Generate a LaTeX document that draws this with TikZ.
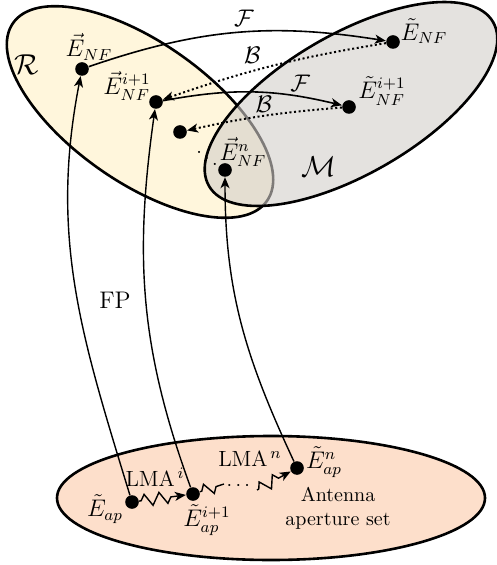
\documentclass[tikz,border=0pt]{standalone}
\usepackage{amsmath, amssymb}
\usetikzlibrary{arrows.meta, positioning, decorations.pathmorphing}

\definecolor{rfill}{RGB}{255,246,220}
\definecolor{mfill}{RGB}{210,206,202}
\definecolor{apfill}{RGB}{253,223,203}

\begin{document}
\begin{tikzpicture}[
  x=0.5pt, y=0.5pt,
  >={Stealth[length=5.5pt, width=4.5pt, inset=1.5pt]},
  region/.style={line width=1.3pt},
  field/.style={
    circle, fill=black,
    minimum size=6.8pt, inner sep=0pt
  },
  lbl/.style={inner sep=1pt, font=\large},
  fwd/.style={->, line width=0.8pt},
  bwd/.style={->, line width=1pt, dash pattern=on 1pt off 1.3pt},
  fp/.style={->, line width=0.7pt},
  lma/.style={
    line width=0.7pt, decorate,
    decoration={zigzag, segment length=7.5pt, amplitude=3pt,
                pre length=1pt, post length=4pt}
  },
  lmalbl/.style={font=\fontsize{11}{13}\selectfont},
]
  \useasboundingbox (0,0) rectangle (496,-565);

  % -------------------------------------------------------
  %  Sets
  % -------------------------------------------------------
  \fill[rfill, rotate around={-35:(140,-112)}]
    (140,-112) ellipse [x radius=155, y radius=70];
  \draw[region, rotate around={-35:(140,-112)}]
    (140,-112) ellipse [x radius=155, y radius=70];
  \fill[mfill, fill opacity=0.6, rotate around={30:(351,-104)}]
    (351,-104) ellipse [x radius=164, y radius=70];
  \draw[region, rotate around={30:(351,-104)}]
    (351,-104) ellipse [x radius=164, y radius=70];
  \filldraw[region, fill=apfill] (271,-498) ellipse [x radius=214, y radius=62];

  \node[font=\Large] (rlab) at (27,-65)   {$\mathcal{R}$};
  \node[font=\Large] (mlab) at (319,-167) {$\mathcal{M}$};
  \node[align=center] (aset) at (338,-508) {Antenna\\aperture set};

  % -------------------------------------------------------
  %  Fields
  % -------------------------------------------------------
  \node[field] (enf)  at (82,-69)   {};
  \node[field] (enf1) at (156,-102) {};
  \node[field] (enx)  at (180,-132) {};
  \node[field] (enn)  at (225,-170) {};
  \node[field] (tnf)  at (393,-42)  {};
  \node[field] (tnf1) at (349,-107) {};

  \node[field] (eap)  at (132,-502) {};
  \node[field] (eap1) at (193,-494) {};
  \node[field] (ean)  at (297,-468) {};

  \node[lbl] (enfL)  at (89,-47)   {$\vec{E}_{NF}$};
  \node[lbl] (enf1L) at (127,-86)  {$\vec{E}^{i+1}_{NF}$};
  \node[lbl] (ennL)  at (243,-152) {$\vec{E}^{n}_{NF}$};
  \node[lbl] (tnfL)  at (424,-31)  {$\tilde{E}_{NF}$};
  \node[lbl] (tnf1L) at (382,-91)  {$\tilde{E}^{i+1}_{NF}$};
  \node[lbl] (eapL)  at (105,-509) {$\tilde{E}_{ap}$};
  \node[lbl] (eap1L) at (207,-520) {$\tilde{E}^{i+1}_{ap}$};
  \node[lbl] (eanL)  at (324,-462) {$\tilde{E}^{n}_{ap}$};

  \node (ddots) at (207,-152) {$\ddots$};

  % -------------------------------------------------------
  %  Forward / backward propagation
  % -------------------------------------------------------
  \draw[fwd] (enf) to[bend left=14]
    node[above=-1pt, pos=.53, font=\large]{$\mathcal{F}$} (tnf);
  \draw[bwd] (tnf) to[bend right=5]
    node[above=0pt, pos=.6, font=\large]{$\mathcal{B}$} (enf1);
  \draw[fwd] (enf1) to[bend left=12]
    node[above=-1pt, pos=.78, font=\large]{$\mathcal{F}$} (tnf1);
  \draw[bwd] (tnf1) to[bend right=4]
    node[above=-2pt, pos=.5, font=\large]{$\mathcal{B}$} (enx);

  % -------------------------------------------------------
  %  FP from the aperture to the near field
  % -------------------------------------------------------
  \draw[fp] (eap)  to[out=107, in=-101] (enf);
  \draw[fp] (eap1) to[out=110, in=-98]  (enf1);
  \draw[fp] (ean)  to[out=115, in=-90]  (enn);
  \node[font=\large] (fplab) at (115,-300) {FP};

  % -------------------------------------------------------
  %  LMA steps (zigzag)
  % -------------------------------------------------------
  \coordinate (z1) at (224,-484);
  \coordinate (z2) at (257,-490);
  \draw[lma, ->] (eap) -- (eap1);
  \draw[lma] (eap1) -- (z1);
  \node (cdots) at (240,-486) {$\cdots$};
  \draw[lma, ->] (z2) -- (ean);

  \node[lmalbl] (lmai) at (155,-477) {LMA$^{\,i}$};
  \node[lmalbl] (lman) at (250,-459) {LMA$^{\,n}$};

\end{tikzpicture}
\end{document}
